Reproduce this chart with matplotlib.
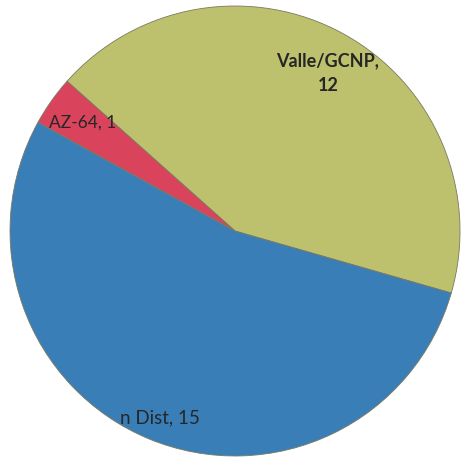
import matplotlib
matplotlib.use("Agg")
import matplotlib.pyplot as plt

labels = ["Valle/GCNP", "AZ-64", "n Dist"]
values = [12, 1, 15]
colors = ["#bdc06c", "#d9445c", "#3a7eb8"]

W, H = 463, 462
fig = plt.figure(figsize=(W / 100, H / 100), dpi=100)
ax = fig.add_axes([0, 0, 1, 1])

cx, cy, r = 235, H - 231, 225
wedges, _ = ax.pie(values, colors=colors, startangle=-16, counterclock=True,
                   center=(cx, cy), radius=r,
                   wedgeprops=dict(edgecolor="#7a7a60", linewidth=0.6))
ax.set_xlim(0, W)
ax.set_ylim(0, H)
ax.set_aspect("equal")
ax.axis("off")

font = ["Lato", "DejaVu Sans"]
ax.text(328, H - 73, f"{labels[0]},\n{values[0]}", ha="center", va="center",
        fontsize=13, fontweight="bold", color="#262626", family=font, linespacing=1.55)
ax.text(49, H - 123, f"{labels[1]}, {values[1]}", ha="left", va="center",
        fontsize=12.5, color="#262626", family=font)
ax.text(120, H - 418, f"{labels[2]}, {values[2]}", ha="left", va="center",
        fontsize=13.5, color="#262626", family=font)

fig.savefig("out.png", dpi=100)
